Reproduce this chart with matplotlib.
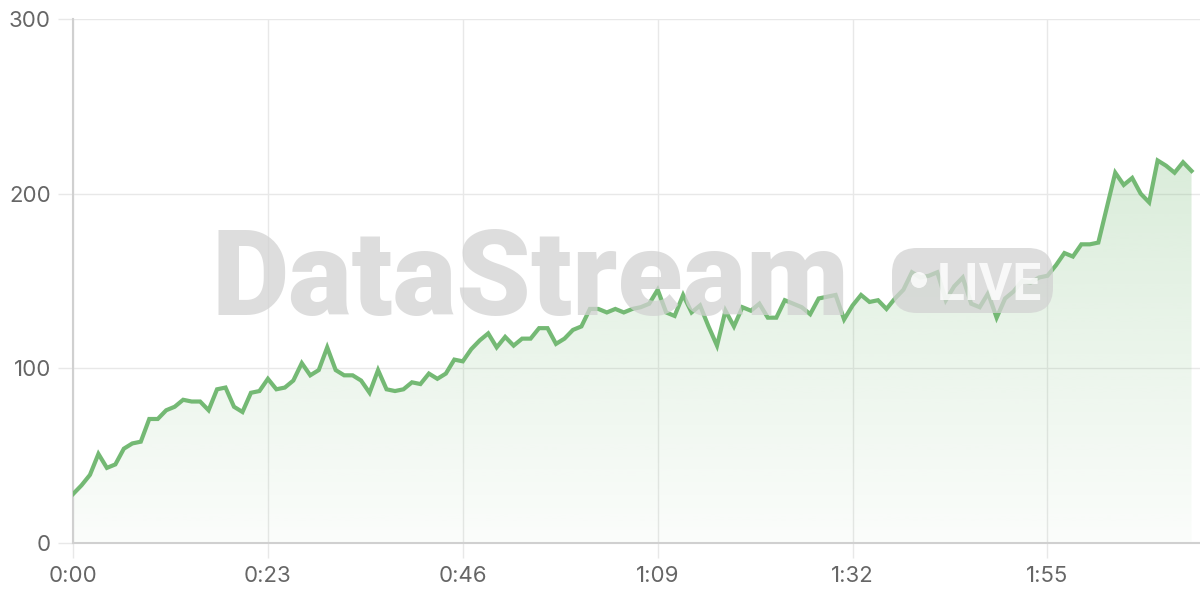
import matplotlib
matplotlib.use("Agg")
import matplotlib.pyplot as plt
import numpy as np
from matplotlib.patches import FancyBboxPatch, Circle
from matplotlib.ticker import FuncFormatter

plt.rcParams['font.family'] = ['Inter', 'DejaVu Sans']

# one sample per second, 0:00 .. 2:12
values = [28, 33, 39, 51, 43, 45, 54, 57, 58, 71,
          71, 76, 78, 82, 81, 81, 76, 88, 89, 78,
          75, 86, 87, 94, 88, 89, 93, 103, 96, 99,
          112, 99, 96, 96, 93, 86, 99, 88, 87, 88,
          92, 91, 97, 94, 97, 105, 104, 111, 116, 120,
          112, 118, 113, 117, 117, 123, 123, 114, 117, 122,
          124, 134, 134, 132, 134, 132, 134, 135, 137, 145,
          132, 130, 142, 132, 136, 124, 113, 133, 124, 135,
          133, 137, 129, 129, 139, 137, 135, 131, 140, 141,
          142, 128, 136, 142, 138, 139, 134, 140, 145, 155,
          152, 153, 155, 139, 147, 152, 137, 135, 143, 129,
          140, 144, 150, 149, 152, 153, 159, 166, 164, 171,
          171, 172, 192, 212, 205, 209, 200, 195, 219, 216,
          212, 218, 213]
seconds = list(range(len(values)))
x_ticks = [0, 23, 46, 69, 92, 115]
y_ticks = [0, 100, 200, 300]

green = '#74b974'
grid_c = '#e8e8e8'
label_c = '#666666'
mark_c = '#d2d2d2'

fig = plt.figure(figsize=(12, 6), dpi=100)
ax = fig.add_axes([73 / 1200, 57 / 600, 1 - 73 / 1200, 524 / 600])

# gradient area under the line
poly = ax.fill_between(seconds, values, 0, facecolor='none', edgecolor='none')
grad = np.zeros((256, 1, 4))
grad[:, 0, :3] = matplotlib.colors.to_rgb(green)
grad[:, 0, 3] = np.linspace(0.03, 0.35, 256)
img = ax.imshow(grad, extent=[0, 133, 0, 300], origin='lower', aspect='auto',
                interpolation='bilinear', zorder=1)
img.set_clip_path(poly.get_paths()[0], transform=ax.transData)

ax.plot(seconds, values, color=green, lw=3, solid_joinstyle='miter', zorder=5)

ax.set_xlim(0, 133)
ax.set_ylim(0, 300)
ax.set_xticks(x_ticks)
ax.set_yticks(y_ticks)
ax.xaxis.set_major_formatter(FuncFormatter(lambda v, p: f"{int(v) // 60}:{int(v) % 60:02d}"))
ax.grid(True, color=grid_c, lw=1, zorder=0)
ax.set_axisbelow(True)
ax.tick_params(axis='both', length=10.8, width=1, color=grid_c, labelcolor=label_c,
               labelsize=16)
ax.tick_params(axis='x', pad=6)
ax.tick_params(axis='y', pad=5)
for s in ['top', 'right']:
    ax.spines[s].set_visible(False)
for s in ['left', 'bottom']:
    ax.spines[s].set_color('#d0d0d0')
    ax.spines[s].set_linewidth(1.5)

# watermark, drawn over the chart
fig.text(212 / 1200, 285 / 600, "DataStream", fontsize=86, fontweight='black',
         family=['Roboto', 'DejaVu Sans'], color=mark_c, alpha=0.75,
         ha='left', va='baseline', zorder=3)
badge = FancyBboxPatch((8.92, 2.87), 1.61, 0.65, boxstyle="round,pad=0,rounding_size=0.25",
                       transform=fig.dpi_scale_trans, facecolor=mark_c, edgecolor='none',
                       alpha=0.75, zorder=3)
fig.patches.append(badge)
fig.patches.append(Circle((9.19, 3.20), 0.08, transform=fig.dpi_scale_trans,
                          facecolor='white', edgecolor='none', alpha=0.8, zorder=3))
fig.text(9.37 / 12, 3.0 / 6, "LIVE", fontsize=37, fontweight='bold',
         family=['Roboto', 'DejaVu Sans'], color='white', alpha=0.8,
         ha='left', va='baseline', zorder=3)

fig.savefig("out.png", dpi=100)
